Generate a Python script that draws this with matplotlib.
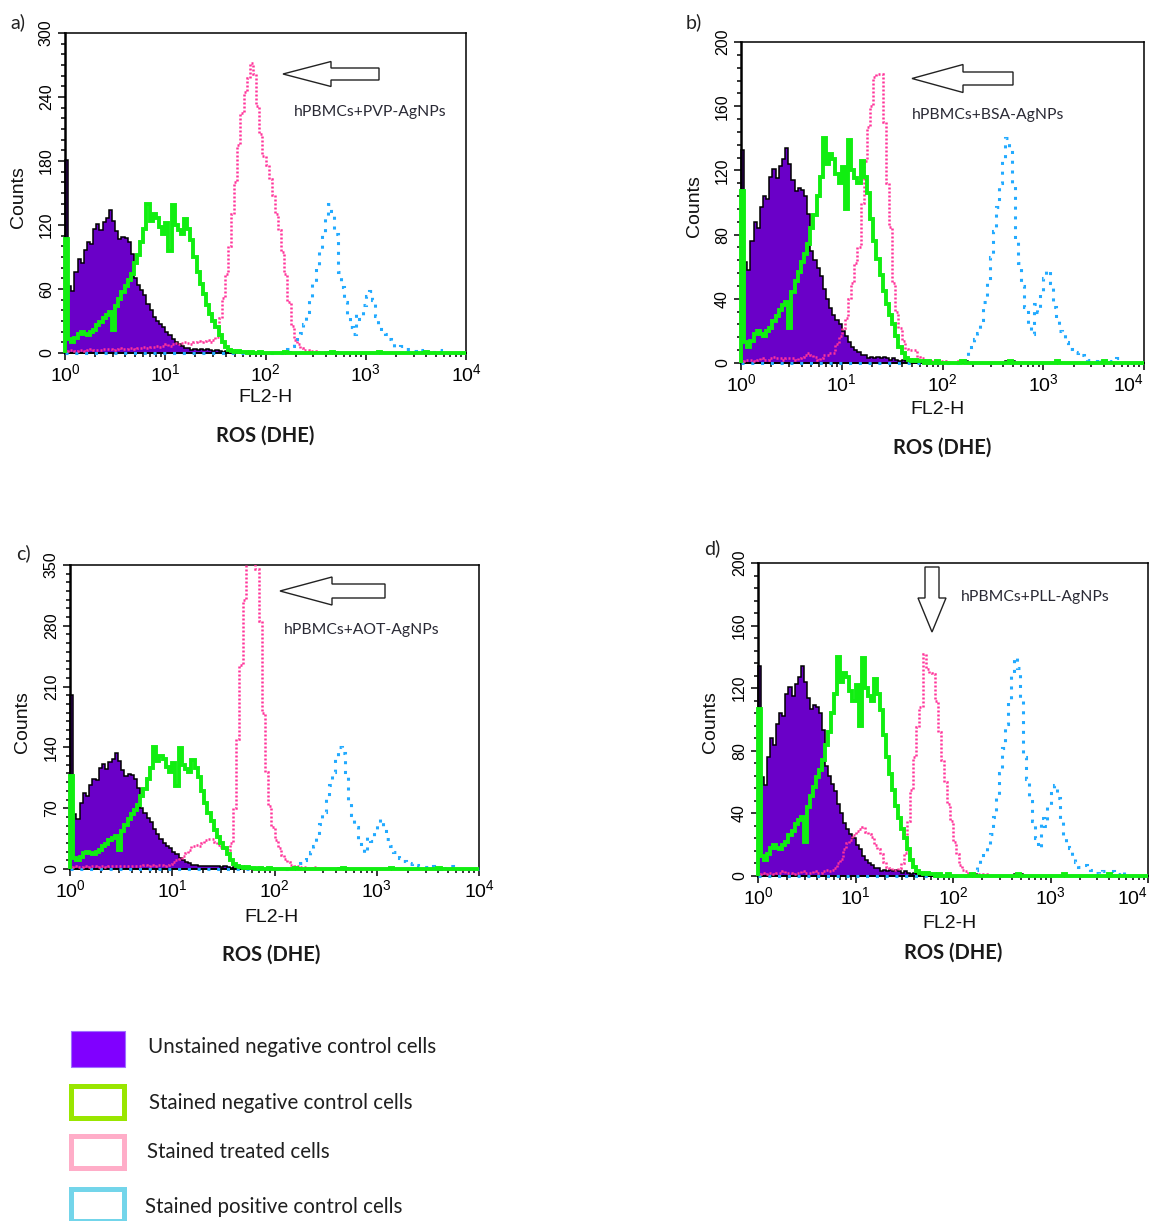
import numpy as np
import matplotlib
matplotlib.use("Agg")
import matplotlib.pyplot as plt
from matplotlib.patches import Polygon, Rectangle
from matplotlib.ticker import MultipleLocator, LogLocator, LogFormatterSciNotation, NullFormatter

plt.rcParams['font.family'] = ['Liberation Sans', 'DejaVu Sans']
plt.rcParams['mathtext.fontset'] = 'custom'
plt.rcParams['mathtext.rm'] = 'Liberation Sans'
plt.rcParams['mathtext.it'] = 'Liberation Sans:italic'
plt.rcParams['mathtext.bf'] = 'Liberation Sans:bold'

W, H = 1160, 1221

# FL2-H channels, 32 per decade from 10^0 to 10^4
bins_per_decade = 32
edges = 10 ** (np.arange(4 * bins_per_decade + 1) / bins_per_decade)

# counts (same controls in every panel)
unstained = [
    0, 63, 58, 76, 88, 84, 97, 104, 102, 116, 121, 115, 123, 127, 134, 124,
    114, 107, 109, 108, 104, 93, 70, 64, 59, 54, 46, 40, 34, 30, 27, 24,
    20, 17, 13, 10, 8, 7, 5, 5, 3, 4, 3, 4, 3, 4, 3, 2,
    3, 2, 1, 2, 1, 1, 0, 1, 0, 0, 1, 0, 0, 0, 0, 0,
    0, 0, 0, 0, 0, 0, 0, 1, 0, 0, 0, 0, 0, 0, 0, 0,
    0, 0, 0, 0, 1, 0, 1, 0, 0, 0, 0, 0, 0, 0, 0, 0,
    0, 0, 0, 0, 0, 0, 0, 0, 0, 0, 0, 0, 0, 0, 0, 0,
    0, 0, 0, 0, 0, 0, 0, 0, 0, 0, 0, 0, 0, 0, 0, 0,
]
# first channel spike of the unstained control, panels a-d
unstained_first = [181, 133, 200, 134]

stained_negative = [
    107, 13, 10, 14, 18, 20, 18, 17, 20, 22, 26, 29, 33, 36, 38, 22,
    44, 51, 57, 63, 68, 74, 84, 92, 104, 116, 140, 124, 130, 127, 118, 112,
    122, 96, 139, 120, 115, 112, 126, 116, 106, 90, 76, 65, 55, 45, 37, 30,
    24, 17, 10, 6, 3, 2, 1, 2, 1, 1, 0, 1, 0, 0, 1, 0,
    0, 0, 0, 0, 0, 0, 1, 0, 0, 0, 0, 0, 0, 0, 0, 0,
    0, 0, 0, 0, 0, 1, 0, 0, 0, 0, 0, 0, 0, 0, 0, 0,
    0, 0, 0, 0, 1, 0, 0, 0, 0, 0, 0, 0, 0, 0, 0, 0,
    0, 0, 0, 1, 0, 0, 0, 0, 0, 0, 0, 0, 0, 0, 0, 0,
]

stained_positive = [
    0, 0, 0, 0, 0, 0, 0, 0, 0, 0, 0, 0, 0, 0, 0, 0,
    0, 0, 0, 0, 0, 0, 0, 0, 0, 0, 0, 0, 0, 0, 0, 0,
    0, 0, 0, 0, 0, 0, 0, 0, 0, 0, 0, 0, 0, 0, 0, 0,
    0, 0, 0, 0, 0, 0, 0, 0, 0, 0, 0, 0, 0, 0, 0, 0,
    0, 0, 0, 0, 0, 0, 1, 4, 7, 10, 15, 19, 27, 38, 52, 66,
    82, 97, 112, 128, 140, 133, 112, 76, 62, 48, 35, 24, 18, 37, 32, 45,
    53, 58, 50, 35, 26, 20, 18, 13, 9, 6, 6, 7, 5, 4, 2, 2,
    1, 3, 1, 0, 3, 1, 1, 3, 0, 0, 0, 0, 0, 0, 0, 0,
]

treated_pvp = [
    2, 3, 3, 2, 3, 3, 2, 3, 4, 3, 3, 3, 4, 4, 4, 3,
    4, 5, 4, 4, 5, 5, 4, 5, 5, 6, 5, 6, 6, 7, 6, 7,
    8, 7, 8, 9, 8, 9, 10, 9, 8, 10, 11, 10, 11, 12, 10, 12,
    15, 33, 52, 74, 100, 130, 160, 195, 225, 245, 258, 272, 262, 232, 205, 185,
    176, 163, 148, 130, 115, 95, 74, 48, 25, 12, 8, 5, 3, 3, 2, 2,
    1, 1, 0, 1, 0, 0, 1, 0, 0, 0, 0, 0, 0, 0, 0, 0,
    0, 0, 0, 0, 0, 0, 0, 0, 0, 0, 0, 0, 0, 0, 0, 0,
    0, 0, 0, 0, 0, 0, 0, 0, 0, 0, 0, 0, 0, 0, 0, 0,
]

treated_bsa = [
    1, 2, 2, 2, 1, 2, 3, 2, 2, 3, 4, 3, 3, 2, 3, 3,
    3, 2, 3, 4, 5, 6, 5, 4, 2, 3, 5, 5, 6, 6, 12, 17,
    22, 28, 40, 50, 62, 72, 100, 126, 147, 160, 178, 180, 180, 150, 112, 85,
    50, 32, 22, 14, 9, 8, 8, 8, 4, 3, 2, 2, 1, 2, 1, 1,
    0, 1, 0, 0, 0, 1, 0, 0, 0, 0, 0, 0, 0, 0, 0, 0,
    0, 0, 0, 0, 0, 0, 0, 0, 0, 0, 0, 0, 0, 0, 0, 0,
    0, 0, 0, 0, 0, 0, 0, 0, 0, 0, 0, 0, 0, 0, 0, 0,
    0, 0, 0, 0, 0, 0, 0, 0, 0, 0, 0, 0, 0, 0, 0, 0,
]

treated_aot = [
    2, 3, 2, 2, 3, 2, 3, 3, 2, 3, 3, 2, 3, 3, 4, 3,
    3, 4, 3, 4, 4, 3, 4, 5, 4, 5, 4, 5, 5, 4, 5, 6,
    8, 10, 12, 15, 18, 22, 27, 28, 27, 30, 33, 35, 34, 31, 28, 25,
    24, 22, 30, 70, 150, 235, 310, 365, 365, 365, 345, 285, 180, 112, 73, 48,
    33, 24, 16, 11, 8, 5, 3, 3, 2, 2, 1, 1, 2, 1, 0, 0,
    0, 0, 0, 0, 0, 0, 0, 0, 0, 0, 0, 0, 0, 0, 0, 0,
    0, 0, 0, 0, 0, 0, 0, 0, 0, 0, 0, 0, 0, 0, 0, 0,
    0, 0, 0, 0, 0, 0, 0, 0, 0, 0, 0, 0, 0, 0, 0, 0,
]

treated_pll = [
    1, 2, 1, 2, 2, 1, 2, 2, 3, 2, 2, 1, 2, 2, 3, 2,
    2, 2, 3, 2, 2, 3, 4, 3, 4, 5, 8, 11, 17, 21, 23, 26,
    29, 30, 31, 28, 27, 25, 20, 17, 14, 9, 6, 5, 4, 4, 5, 8,
    15, 35, 55, 76, 95, 108, 142, 132, 130, 129, 112, 92, 74, 60, 46, 35,
    22, 14, 7, 4, 3, 2, 2, 1, 1, 0, 1, 0, 0, 0, 0, 0,
    0, 0, 0, 0, 0, 0, 0, 0, 0, 0, 0, 0, 0, 0, 0, 0,
    0, 0, 0, 0, 0, 0, 0, 0, 0, 0, 0, 0, 0, 0, 0, 0,
    0, 0, 0, 0, 0, 0, 0, 0, 0, 0, 0, 0, 0, 0, 0, 0,
]

panel_letters = ['a)', 'b)', 'c)', 'd)']
panel_titles = ['hPBMCs+PVP-AgNPs', 'hPBMCs+BSA-AgNPs', 'hPBMCs+AOT-AgNPs', 'hPBMCs+PLL-AgNPs']
treated = [treated_pvp, treated_bsa, treated_aot, treated_pll]
y_max = [300, 200, 350, 200]
y_major = [60, 40, 70, 40]
y_minor = [10, 8, 10, 8]
x_ticks = [1, 10, 100, 1000, 10000]

legend_labels = ['Unstained negative control cells', 'Stained negative control cells',
                 'Stained treated cells', 'Stained positive control cells']

# layout in pixels of the reference: axes box (left, top, right, bottom)
boxes = [(65, 33, 466, 353), (741, 42, 1144, 363), (70, 565, 479, 869), (758, 563, 1148, 876)]
letter_xy = [(18, 22), (694, 22), (23, 553), (712, 548)]
title_xy = [(370, 112), (988, 115), (362, 630), (1035, 597)]
fl2_xy = [(265, 398), (938, 410), (271, 917), (949, 923)]
ros_xy = [(265, 436), (942, 448), (271, 955), (953, 953)]
counts_xy = [(19, 197), (694, 206), (23, 722), (711, 722)]

PURPLE = '#6a00c8'
GREEN = '#11ee11'
PINK = '#ff3399'
BLUE = '#22aaff'

fig = plt.figure(figsize=(W / 100, H / 100), dpi=100)

for i in range(4):
    l, t, r, b = boxes[i]
    ax = fig.add_axes([l / W, 1 - b / H, (r - l) / W, (b - t) / H])
    neg = list(unstained)
    neg[0] = unstained_first[i]
    ax.stairs(neg, edges, fill=True, color=PURPLE, lw=0, zorder=1)
    ax.stairs(neg, edges, color='black', lw=1.1, zorder=2, clip_on=False)
    ax.stairs(stained_positive, edges, color=BLUE, lw=2.2, ls=(0, (1, 2.2)), zorder=3, clip_on=False)
    ax.stairs(treated[i], edges, color=PINK, lw=1.8, ls=(0, (0.8, 0.8)), zorder=4)
    ax.stairs(stained_negative, edges, color=GREEN, lw=2.8, zorder=5, clip_on=False)

    ax.set_xscale('log')
    ax.set_xlim(1, 1e4)
    ax.set_ylim(0, y_max[i])
    ax.set_xticks(x_ticks)
    ax.xaxis.set_minor_locator(LogLocator(base=10, subs=np.arange(2, 10), numticks=20))
    ax.xaxis.set_minor_formatter(NullFormatter())
    ax.xaxis.set_major_formatter(LogFormatterSciNotation())
    ticks = np.arange(0, y_max[i] + 1, y_major[i])
    ax.set_yticks(ticks, [str(v) for v in ticks], rotation=90, va='center')
    ax.yaxis.set_minor_locator(MultipleLocator(y_minor[i]))
    ax.tick_params(which='both', direction='out', top=False, right=False, width=1.1)
    ax.tick_params(which='major', length=5)
    ax.tick_params(which='minor', length=3)
    ax.tick_params(axis='x', labelsize=14, pad=2)
    ax.tick_params(axis='y', labelsize=11.5, pad=3)
    for s in ax.spines.values():
        s.set_linewidth(1.1)
    ax.spines['left'].set_linewidth(1.8)
    ax.spines['bottom'].set_linewidth(1.4)
    if r > W - 20:
        # keep the last decade label inside the figure
        ax.get_xticklabels()[-1].set_horizontalalignment('right')

# overlay in reference pixel coordinates for labels, arrows and legend
ov = fig.add_axes([0, 0, 1, 1], zorder=10)
ov.set_xlim(0, W)
ov.set_ylim(H, 0)
ov.axis('off')

for i in range(4):
    ov.text(*letter_xy[i], panel_letters[i], family='Lato', fontsize=14, ha='center', va='center', color='#222222')
    ov.text(*title_xy[i], panel_titles[i], family='Lato', fontsize=11.3, ha='center', va='center', color='#2a2a35')
    ov.text(*fl2_xy[i], 'FL2-H', fontsize=14, ha='center', va='center', color='#111111')
    ov.text(*ros_xy[i], 'ROS (DHE)', family='Lato', fontweight='bold', fontsize=14.5, ha='center', va='center', color='#1a1a1a')
    ov.text(*counts_xy[i], 'Counts', fontsize=14, rotation=90, ha='center', va='center', color='#111111')


def left_arrow(tip, head_base, tail, cy, hh, bh):
    return [(tip, cy), (head_base, cy - hh), (head_base, cy - bh), (tail, cy - bh),
            (tail, cy + bh), (head_base, cy + bh), (head_base, cy + hh)]


def down_arrow(cx, top, head_base, tip, hh, bh):
    return [(cx, tip), (cx - hh, head_base), (cx - bh, head_base), (cx - bh, top),
            (cx + bh, top), (cx + bh, head_base), (cx + hh, head_base)]


arrows = [left_arrow(283, 331, 379, 74, 12.5, 6),
          left_arrow(912, 963, 1013, 78.5, 14, 6.5),
          left_arrow(280, 332, 385, 591, 14, 7),
          down_arrow(932, 567, 598, 632, 14, 7)]
for pts in arrows:
    ov.add_patch(Polygon(pts, closed=True, facecolor='white', edgecolor='#222222', lw=1.0))

# legend
ov.add_patch(Rectangle((71, 1031), 54, 36, facecolor='#8000ff', edgecolor='#a070ff', lw=0.8))
ov.add_patch(Rectangle((70.5, 1085.5), 53, 32, facecolor='white', edgecolor='#99e600', lw=3.6))
ov.add_patch(Rectangle((70.5, 1135.5), 53, 32, facecolor='white', edgecolor='#ffadc8', lw=3.6))
ov.add_patch(Rectangle((70.5, 1188.5), 53, 32, facecolor='white', edgecolor='#73d5ea', lw=3.6))
legend_y = [1047, 1103, 1152, 1207]
legend_x = [148, 149, 147, 145]
for lab, x, y in zip(legend_labels, legend_x, legend_y):
    ov.text(x, y, lab, family='Lato', fontsize=14.8, ha='left', va='center', color='#1f1f1f')

fig.savefig('out.png', dpi=100)
